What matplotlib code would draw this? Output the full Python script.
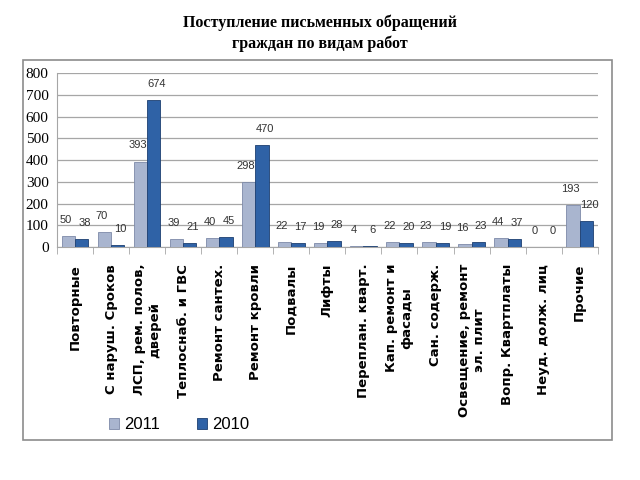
import numpy as np
import matplotlib.pyplot as plt
from matplotlib.patches import Rectangle

# categories and values
categories = ["Повторные", "С наруш. Сроков", "ЛСП, рем. полов,\nдверей",
              "Теплоснаб. и ГВС", "Ремонт сантех.", "Ремонт кровли",
              "Подвалы", "Лифты", "Переплан. кварт.", "Кап. ремонт и\nфасады",
              "Сан. содерж.", "Освещение, ремонт\nэл. плит", "Вопр. Квартплаты",
              "Неуд. долж. лиц", "Прочие"]
values_2011 = [50, 70, 393, 39, 40, 298, 22, 19, 4, 22, 23, 16, 44, 0, 193]
values_2010 = [38, 10, 674, 21, 45, 470, 17, 28, 6, 20, 19, 23, 37, 0, 120]
series_names = ["2011", "2010"]
yticks = [0, 100, 200, 300, 400, 500, 600, 700, 800]

fig = plt.figure(figsize=(6.4, 4.8), dpi=100)

# outer frame around the chart area
fig.patches.append(Rectangle((0.036, 0.083), 0.920, 0.792, transform=fig.transFigure,
                             fill=False, edgecolor="#8c8c8c", linewidth=1.2))

fig.text(0.5, 0.930, "Поступление письменных обращений\nграждан по видам работ",
         ha="center", va="center", fontsize=11.5, fontweight="bold",
         family="Liberation Serif", linespacing=1.35)

ax = fig.add_axes([0.089, 0.485, 0.845, 0.363])
x = np.arange(len(categories))
w = 0.37
b1 = ax.bar(x - w / 2, values_2011, w, color="#a9b5cf", edgecolor="#7d8aa8", linewidth=0.6,
            label=series_names[0], zorder=3)
b2 = ax.bar(x + w / 2, values_2010, w, color="#2f62a6", edgecolor="#1d3f70", linewidth=0.6,
            label=series_names[1], zorder=3)

# value labels, nudged apart a little like the original
for bars, vals, dx in ((b1, values_2011, -2), (b2, values_2010, 2)):
    for rect, v in zip(bars, vals):
        ax.annotate(str(v), (rect.get_x() + rect.get_width() / 2, v), xytext=(dx, 8),
                    textcoords="offset points", ha="center", va="bottom",
                    fontsize=8, color="#333333", family="Liberation Sans", zorder=4)

ax.set_xlim(-0.5, len(categories) - 0.5)
ax.set_ylim(0, 800)
ax.set_yticks(yticks)
ax.set_yticklabels([str(t) for t in yticks], family="Liberation Serif", fontsize=11)
ax.yaxis.grid(True, color="#a6a6a6", linewidth=0.9, zorder=0)
ax.tick_params(axis="y", length=0, pad=6)

ax.set_xticks(x)
ax.set_xticklabels(categories, rotation=90, fontsize=9.5, fontweight="bold",
                   family="DejaVu Sans", va="top", ha="center", multialignment="center")
ax.tick_params(axis="x", which="major", length=0, pad=12)
ax.set_xticks(np.arange(-0.5, len(categories), 1), minor=True)
ax.tick_params(axis="x", which="minor", length=5, color="#a6a6a6")

for side in ("top", "right"):
    ax.spines[side].set_visible(False)
ax.spines["left"].set_color("#a6a6a6")
ax.spines["bottom"].set_color("#a6a6a6")

fig.legend(handles=[b1, b2], labels=series_names, loc="center", ncol=2,
           bbox_to_anchor=(0.28, 0.115), frameon=False, handlelength=0.6, handleheight=0.7,
           handletextpad=0.3, columnspacing=2.2,
           prop={"family": "Liberation Sans", "size": 12})

fig.savefig("out.png", dpi=100)
